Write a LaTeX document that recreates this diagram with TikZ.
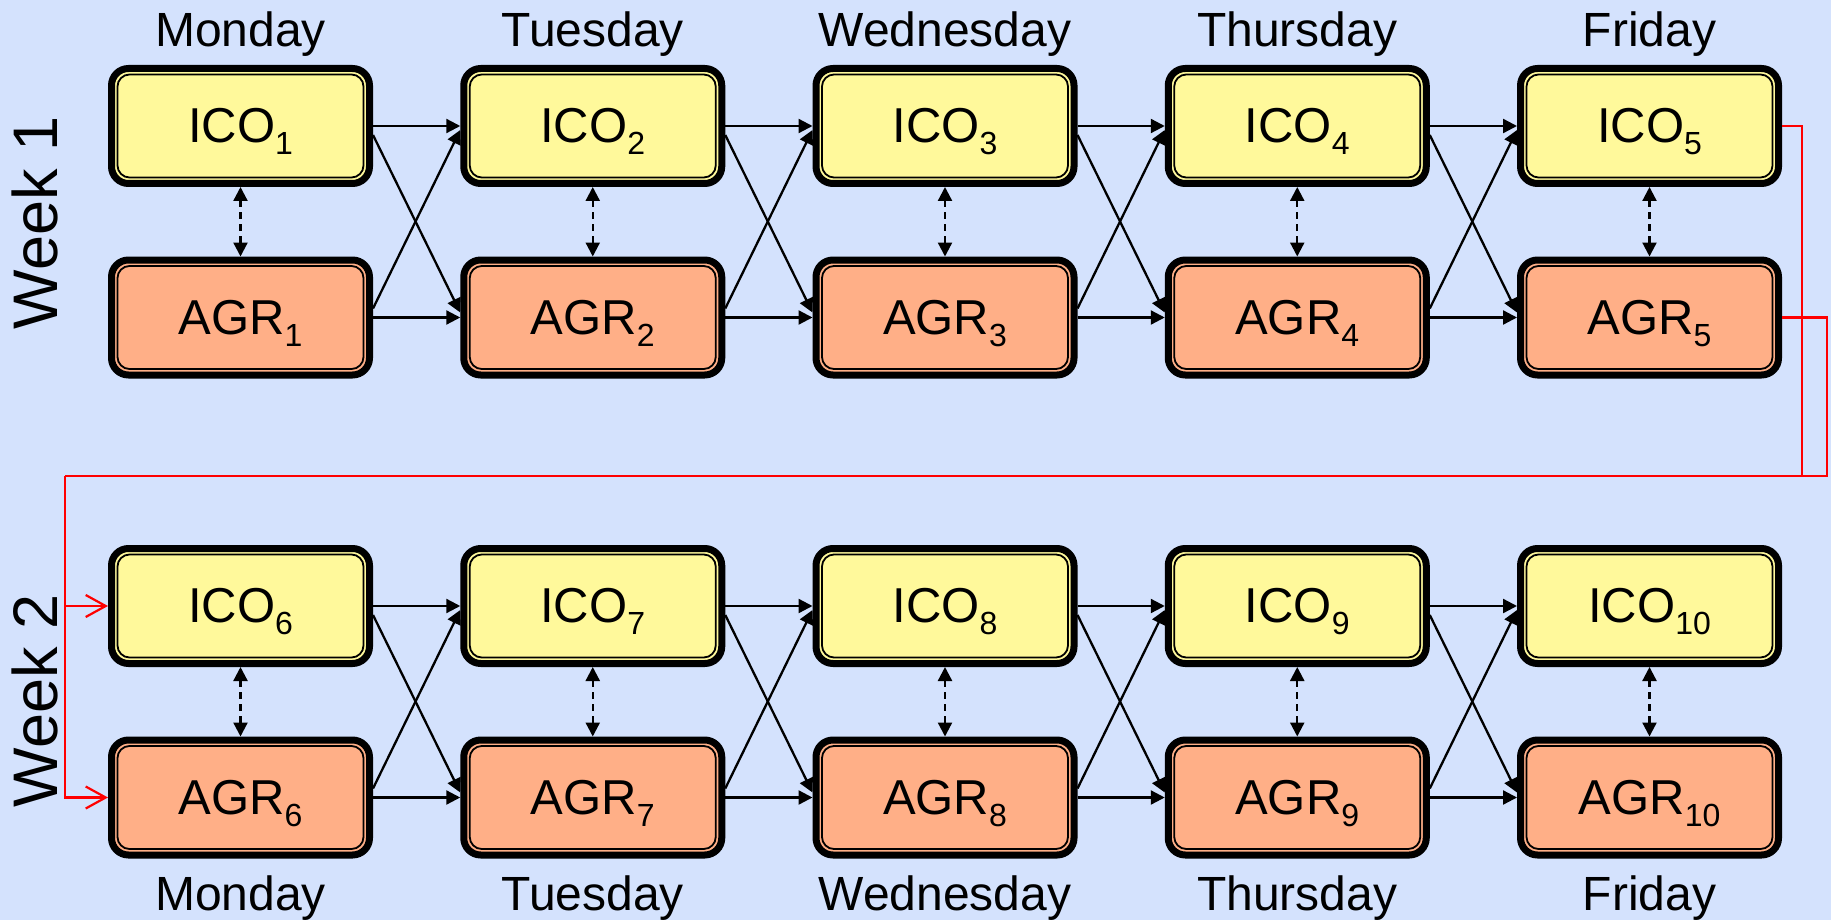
\documentclass[tikz,border=0pt]{standalone}
\usepackage{fontspec}
\setmainfont{Liberation Sans}
\usetikzlibrary{arrows.meta}
\definecolor{bg}{RGB}{212,226,253}
\definecolor{icofill}{RGB}{255,249,155}
\definecolor{agrfill}{RGB}{255,175,135}
% lowered index digit that does not change the box height
\newcommand{\lowidx}[1]{\raisebox{-12pt}[0pt][0pt]{\fontsize{32}{32}\selectfont #1}}

\begin{document}
\begin{tikzpicture}[x=1pt,y=-1pt,
  box/.style={draw=black, line width=7pt, rounded corners=17pt,
    minimum width=258pt, minimum height=115pt, inner sep=0pt,
    font=\fontsize{49}{58}\selectfont,
    path picture={\draw[line width=1.8pt, rounded corners=12pt]
      ([shift={(6pt,6pt)}]path picture bounding box.south west) rectangle
      ([shift={(-6pt,-6pt)}]path picture bounding box.north east);}},
  ico/.style={box, fill=icofill},
  agr/.style={box, fill=agrfill},
  day/.style={font=\fontsize{48}{56}\selectfont, anchor=base, inner sep=0pt},
  week/.style={font=\fontsize{63}{70}\selectfont, anchor=base, rotate=90, inner sep=0pt},
  flow/.style={line width=2.3pt, -{Triangle[length=14pt,width=14pt]}},
  link/.style={line width=2.3pt, dash pattern=on 7pt off 5pt,
    {Triangle[length=14pt,width=14pt]}-{Triangle[length=14pt,width=14pt]}},
  feed/.style={red, line width=2.2pt},
  feedarrow/.style={feed, -{Straight Barb[length=20pt,width=22pt,line width=2.2pt]}}
]
\useasboundingbox[fill=bg] (0,0) rectangle (1831,920);

% boxes and day names
\foreach \k/\d in {1/Monday,2/Tuesday,3/Wednesday,4/Thursday,5/Friday} {
  \pgfmathsetmacro\xx{240.5+352.25*(\k-1)}
  \pgfmathtruncatemacro\m{\k+5}
  \node[ico] (i\k) at (\xx,126) {ICO\lowidx{\k}};
  \node[agr] (a\k) at (\xx,317.5) {AGR\lowidx{\k}};
  \node[ico] (i\m) at (\xx,606) {ICO\lowidx{\m}};
  \node[agr] (a\m) at (\xx,797.5) {AGR\lowidx{\m}};
  \node[day] (dt\k) at (\xx,47) {\d};
  \node[day] (db\k) at (\xx,910) {\d};
}

% week labels
\node[week] (w1) at (57,223) {Week 1};
\node[week] (w2) at (57,701) {Week 2};

% day-to-day transitions
\foreach \k in {1,2,3,4,6,7,8,9} {
  \pgfmathtruncatemacro\n{\k+1}
  \draw[flow] (i\k.east) -- (i\n.west);
  \draw[flow] (a\k.east) -- (a\n.west);
  \draw[flow] ([yshift=-9pt]i\k.east) -- ([yshift=5pt]a\n.west);
  \draw[flow] ([yshift=9pt]a\k.east) -- ([yshift=-4pt]i\n.west);
}

% exchange between ICO and AGR on the same day
\foreach \k in {1,...,10} {
  \draw[link] (i\k.south) -- (a\k.north);
}

% carry-over from week 1 to week 2
\coordinate (r1) at (1802,476);
\coordinate (r2) at (1827,476);
\coordinate (r3) at (65,476);
\draw[feed] (i5.east) -| (r1);
\draw[feed] (a5.east) -| (r2) -- (r3);
\draw[feedarrow] (r3) |- (i6.west);
\draw[feedarrow] (r3) |- (a6.west);
\end{tikzpicture}
\end{document}
